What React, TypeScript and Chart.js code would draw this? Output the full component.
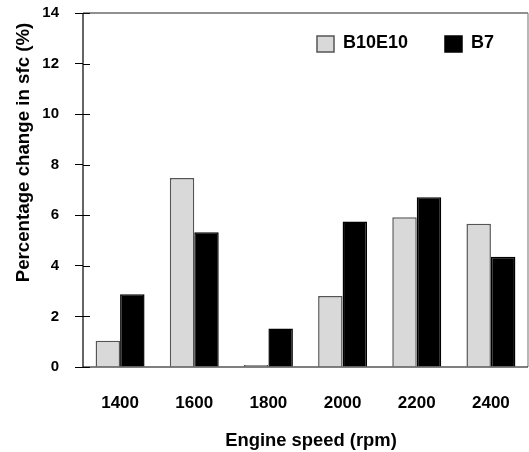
import React, { useEffect, useRef } from "react";
import { Chart, registerables } from "chart.js";

Chart.register(...registerables);

const categories = ["1400", "1600", "1800", "2000", "2200", "2400"];
const seriesB10E10 = [1.04, 7.47, 0.08, 2.81, 5.92, 5.67];
const seriesB7 = [2.88, 5.33, 1.52, 5.75, 6.71, 4.36];
const yTicks = [0, 2, 4, 6, 8, 10, 12, 14];
const xTitle = "Engine speed (rpm)";
const yTitle = "Percentage change in sfc (%)";

const FONT = '"Liberation Sans", Arial, sans-serif';

const decorPlugin = {
  id: "decor",
  afterDraw(chart: any) {
    const { ctx, chartArea } = chart;
    const { left, right, top, bottom } = chartArea;
    const yScale = chart.scales.y;
    ctx.save();
    // inner tick marks
    ctx.strokeStyle = "#000";
    ctx.lineWidth = 1;
    yTicks.forEach((v) => {
      const y = Math.round(yScale.getPixelForValue(v)) + 0.5;
      ctx.beginPath();
      ctx.moveTo(left, y);
      ctx.lineTo(left + 7, y);
      ctx.stroke();
    });
    // frame
    ctx.lineWidth = 1.2;
    ctx.strokeStyle = "#222";
    ctx.beginPath();
    ctx.moveTo(left, top);
    ctx.lineTo(right, top);
    ctx.stroke();
    ctx.strokeStyle = "#888";
    ctx.beginPath();
    ctx.moveTo(right, top);
    ctx.lineTo(right, bottom);
    ctx.stroke();
    ctx.strokeStyle = "#000";
    ctx.beginPath();
    ctx.moveTo(left, top);
    ctx.lineTo(left, bottom);
    ctx.lineTo(right, bottom);
    ctx.stroke();

    // legend
    const ds = chart.data.datasets;
    const legendItems = [
      { boxX: 317, textX: 343 },
      { boxX: 445, textX: 471 },
    ];
    ctx.font = `bold 18px ${FONT}`;
    ctx.textBaseline = "alphabetic";
    ctx.textAlign = "left";
    legendItems.forEach((it, i) => {
      const d = ds[i];
      ctx.fillStyle = d.backgroundColor;
      ctx.fillRect(it.boxX, 36, 17, 16);
      ctx.strokeStyle = d.borderColor;
      ctx.lineWidth = 1.5;
      ctx.strokeRect(it.boxX, 36, 17, 16);
      ctx.fillStyle = "#000";
      ctx.fillText(d.label, it.textX, 48);
    });

    // axis titles
    ctx.fillStyle = "#000";
    ctx.font = `bold 18.4px ${FONT}`;
    ctx.textAlign = "center";
    ctx.textBaseline = "alphabetic";
    ctx.fillText(xTitle, 311, 445.5);
    ctx.font = `bold 18.7px ${FONT}`;
    ctx.translate(28.5, 152.5);
    ctx.rotate(-Math.PI / 2);
    ctx.fillText(yTitle, 0, 0);
    ctx.restore();
  },
};

export default function App() {
  const ref = useRef<HTMLCanvasElement>(null);
  useEffect(() => {
    if (!ref.current) return;
    const chart = new Chart(ref.current, {
      type: "bar",
      data: {
        labels: categories,
        datasets: [
          {
            label: "B10E10",
            data: seriesB10E10,
            backgroundColor: "#d9d9d9",
            borderColor: "#555555",
            borderWidth: 1.5,
            borderSkipped: "start",
            categoryPercentage: 0.66,
            barPercentage: 1.0,
          },
          {
            label: "B7",
            data: seriesB7,
            backgroundColor: "#000000",
            borderColor: "#000000",
            borderWidth: 1.5,
            borderSkipped: "start",
            categoryPercentage: 0.66,
            barPercentage: 1.0,
          },
        ],
      },
      options: {
        responsive: false,
        animation: false,
        layout: { padding: { top: 13, right: 1, bottom: 0, left: 0 } },
        plugins: {
          legend: { display: false },
          tooltip: { enabled: false },
        },
        scales: {
          x: {
            grid: { display: false },
            border: { display: false },
            ticks: {
              color: "#000",
              font: { family: FONT, size: 17, weight: "bold" },
              padding: 18,
              maxRotation: 0,
            },
            afterFit(scale: any) {
              scale.height = 85;
              scale.paddingLeft = 0;
              scale.paddingRight = 0;
              scale.paddingTop = 0;
              scale.paddingBottom = 0;
            },
          },
          y: {
            min: 0,
            max: 14,
            grid: {
              display: true,
              drawOnChartArea: false,
              drawTicks: true,
              tickLength: 8,
              color: "#000",
            },
            border: { display: false },
            ticks: {
              stepSize: 2,
              color: "#000",
              font: { family: FONT, size: 15, weight: "bold" },
              padding: 16,
            },
            afterFit(scale: any) {
              scale.width = 83;
              scale.paddingLeft = 0;
              scale.paddingRight = 0;
              scale.paddingTop = 0;
              scale.paddingBottom = 0;
            },
          },
        },
      },
      plugins: [decorPlugin],
    } as any);
    return () => chart.destroy();
  }, []);
  return (
    <div style={{ position: "fixed", left: 0, top: 0, width: 529, height: 452, background: "#fff" }}>
      <canvas ref={ref} width={529} height={452} />
    </div>
  );
}
